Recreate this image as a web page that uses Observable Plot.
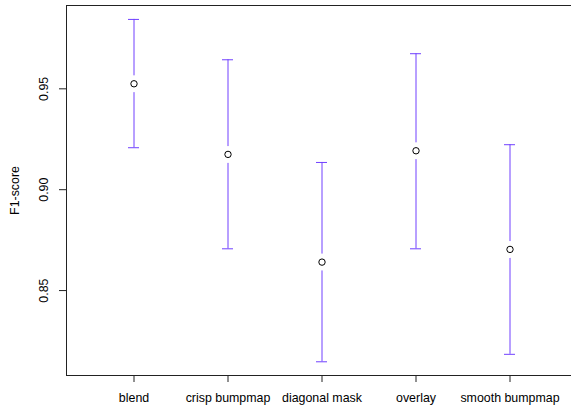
<!DOCTYPE html>
<html>
<head>
<meta charset="utf-8">
<script src="https://cdn.jsdelivr.net/npm/d3@7"></script>
<script src="https://cdn.jsdelivr.net/npm/@observablehq/plot@0.6"></script>
<style>
  html, body { margin: 0; padding: 0; background: white; overflow: hidden; }
</style>
</head>
<body>
<div id="chart"></div>
<script>
const categories = ["blend", "crisp bumpmap", "diagonal mask", "overlay", "smooth bumpmap"];
const f1 = [0.9525, 0.9175, 0.8641, 0.9193, 0.8704];
const lower = [0.9208, 0.8707, 0.8147, 0.8707, 0.8184];
const upper = [0.9844, 0.9644, 0.9135, 0.9674, 0.9223];
const yTicks = [0.85, 0.90, 0.95];
const yTickLabels = ["0.85", "0.90", "0.95"];
const yTitle = "F1-score";

const data = categories.map((c, i) => ({cat: c, f1: f1[i], lo: lower[i], hi: upper[i]}));
const yTickData = yTicks.map((v, i) => ({v, label: yTickLabels[i]}));
const barColor = "#7040ff";
const fs = 12.4;

const chart = Plot.plot({
  width: 571,
  height: 406,
  marginLeft: 66,
  marginRight: -5,
  marginTop: 5,
  marginBottom: 31,
  style: {fontFamily: "'Liberation Sans', Arial, sans-serif", fontSize: fs + "px", background: "white", color: "black"},
  x: {type: "band", domain: categories, paddingInner: 0.8833, paddingOuter: 0.646, axis: null},
  y: {domain: [0.8079, 0.9913], axis: null},
  marks: [
    Plot.frame({stroke: "#222"}),
    Plot.axisX({tickSize: 7, tickPadding: 11, label: null, fontSize: fs, stroke: "#222"}),
    Plot.axisY({ticks: yTicks, tickSize: 7, tickFormat: () => "", label: null, stroke: "#222"}),
    Plot.text(yTickData, {y: "v", text: "label", frameAnchor: "left", dx: -22, rotate: -90, textAnchor: "middle", lineAnchor: "middle", fontSize: fs}),
    Plot.text([yTitle], {text: d => d, frameAnchor: "left", dx: -51, rotate: -90, textAnchor: "middle", lineAnchor: "middle", fontSize: fs}),
    Plot.ruleX(data, {x: "cat", y1: "lo", y2: "hi", stroke: barColor}),
    Plot.tickY(data, {x: "cat", y: "lo", stroke: barColor}),
    Plot.tickY(data, {x: "cat", y: "hi", stroke: barColor}),
    Plot.dot(data, {x: "cat", y: "f1", r: 8.5, fill: "white", stroke: "none"}),
    Plot.dot(data, {x: "cat", y: "f1", r: 3.2, fill: "none", stroke: "black", strokeWidth: 1})
  ]
});
document.getElementById("chart").appendChild(chart);
</script>
</body>
</html>
